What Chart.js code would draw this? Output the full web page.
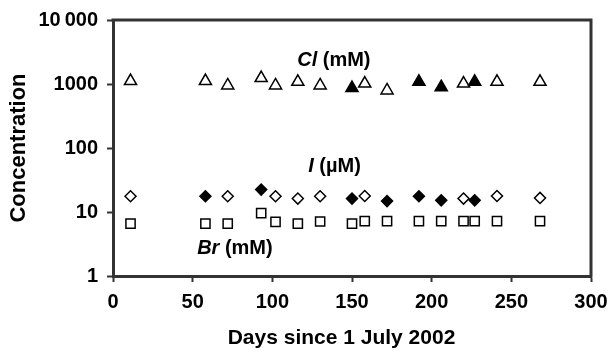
<!DOCTYPE html>
<html><head><meta charset="utf-8">
<script src="https://cdn.jsdelivr.net/npm/chart.js@4.4.1/dist/chart.umd.min.js"></script>
<style>html,body{margin:0;padding:0;background:#fff}#wrap{width:613px;height:356px;position:relative}</style>
</head><body><div id="wrap"><canvas id="c"></canvas></div>
<script>
const days = [11, 58, 72, 93, 102, 116, 130, 150, 158, 172, 192, 206, 220, 227, 241, 268];
const clValues = [1110, 1110, 950, 1240, 950, 1080, 950, 865, 1015, 795, 1080, 893, 1015, 1080, 1080, 1080];
const iValues = [17.6, 17.6, 17.6, 22.4, 17.6, 16.2, 17.6, 16.2, 17.8, 14.8, 17.6, 15.2, 16.2, 15.2, 17.8, 16.6];
const brValues = [6.6, 6.6, 6.6, 9.6, 7.0, 6.6, 7.1, 6.6, 7.2, 7.2, 7.2, 7.2, 7.2, 7.2, 7.2, 7.2];
const clFilled = [0, 0, 0, 0, 0, 0, 0, 1, 0, 0, 1, 1, 0, 1, 0, 0];
const iFilled = [0, 1, 0, 1, 0, 0, 0, 1, 0, 1, 1, 1, 0, 1, 0, 0];
const brFilled = [0, 0, 0, 0, 0, 0, 0, 0, 0, 0, 0, 0, 0, 0, 0, 0];
const yTicks = [1, 10, 100, 1000, 10000];
const yTickLabels = ['1', '10', '100', '1000', '10\u2009000'];
const xTitle = 'Days since 1 July 2002';
const yTitle = 'Concentration';

const FONT = '"Liberation Sans", Arial, sans-serif';
const AX = '#333333';

function pts(vals) { return days.map((d, i) => ({ x: d, y: vals[i] })); }
function fills(f) { return f.map(v => v ? '#000000' : '#ffffff'); }

const annot = {
  id: 'annot',
  afterDraw(chart) {
    const { ctx, chartArea: a, scales: { x, y } } = chart;
    ctx.save();
    ctx.strokeStyle = AX; ctx.lineWidth = 3;
    ctx.beginPath();
    ctx.moveTo(a.left - 1.5, a.top); ctx.lineTo(a.right, a.top);
    ctx.lineTo(a.right, a.bottom + 1.5);
    ctx.stroke();
    ctx.fillStyle = '#000';
    ctx.textBaseline = 'middle';
    ctx.textAlign = 'left';
    function label(it, rest, day, val) {
      const px = x.getPixelForValue(day), py = y.getPixelForValue(val);
      ctx.font = 'italic bold 20px ' + FONT;
      ctx.fillText(it, px, py);
      const w = ctx.measureText(it).width;
      ctx.font = 'bold 20px ' + FONT;
      ctx.fillText(rest, px + w, py);
    }
    label('Cl', ' (mM)', 115.6, 2370);
    label('I', ' (\u00B5M)', 122.5, 51);
    label('Br', ' (mM)', 52.8, 2.7);
    ctx.textAlign = 'center';
    ctx.font = 'bold 21px ' + FONT;
    ctx.fillText(xTitle, 341.5, 338);
    ctx.restore();
  }
};

new Chart(document.getElementById('c'), {
  type: 'scatter',
  data: {
    datasets: [
      { label: 'Cl', data: pts(clValues), pointStyle: 'triangle', pointRadius: 7, pointHoverRadius: 7,
        pointBorderWidth: 1.5, pointBorderColor: '#000', pointBackgroundColor: fills(clFilled) },
      { label: 'I', data: pts(iValues), pointStyle: 'rectRot', pointRadius: 5.5, pointHoverRadius: 5.5,
        pointBorderWidth: 1.5, pointBorderColor: '#000', pointBackgroundColor: fills(iFilled) },
      { label: 'Br', data: pts(brValues), pointStyle: 'rect', pointRadius: 6.5, pointHoverRadius: 6.5,
        pointBorderWidth: 1.5, pointBorderColor: '#000', pointBackgroundColor: fills(brFilled) }
    ]
  },
  options: {
    responsive: true, maintainAspectRatio: false, animation: false,
    layout: { padding: { left: 0, top: 20, right: 22, bottom: 0 } },
    plugins: { legend: { display: false }, tooltip: { enabled: false } },
    scales: {
      x: {
        type: 'linear', min: 0, max: 300,
        afterFit(s) { s.height = 80; s.paddingLeft = 0; s.paddingRight = 0; },
        ticks: { stepSize: 50, color: '#000', padding: 8, font: { family: FONT, size: 20, weight: 'bold' } },
        grid: { drawOnChartArea: false, drawTicks: true, tickLength: 6, tickWidth: 2, tickColor: AX },
        border: { display: true, width: 3, color: AX },
        title: { display: false }
      },
      y: {
        type: 'logarithmic', min: 1, max: 10000,
        afterFit(s) { s.width = 113; s.paddingTop = 0; s.paddingBottom = 0; },
        afterBuildTicks(s) { s.ticks = yTicks.map(v => ({ value: v })); },
        ticks: { color: '#000', padding: 9, font: { family: FONT, size: 20, weight: 'bold' },
          callback(v) { const i = yTicks.indexOf(v); return i >= 0 ? yTickLabels[i] : ''; } },
        grid: { drawOnChartArea: false, drawTicks: true, tickLength: 6, tickWidth: 2, tickColor: AX },
        border: { display: true, width: 3, color: AX },
        title: { display: true, text: yTitle, color: '#000', padding: { top: 6, bottom: 0 },
          font: { family: FONT, size: 22, weight: 'bold' } }
      }
    }
  },
  plugins: [annot]
});
</script>
</body></html>
